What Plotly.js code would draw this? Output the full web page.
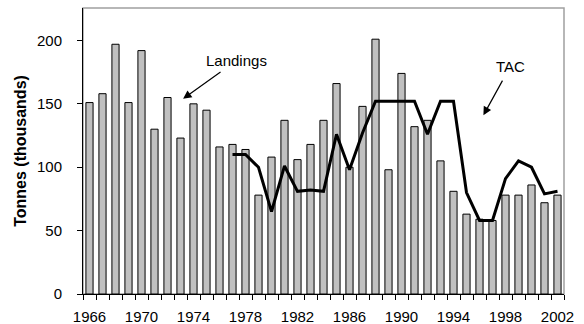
<!DOCTYPE html>
<html>
<head>
<meta charset="utf-8">
<script src="https://cdn.plot.ly/plotly-3.0.1.min.js"></script>
<style>
  html, body { margin: 0; padding: 0; background: #fff; }
  #chart { width: 584px; height: 324px; }
</style>
</head>
<body>
<div id="chart"></div>
<script>
// Annual landings (thousand tonnes), 1966-2002
const years = [1966, 1967, 1968, 1969, 1970, 1971, 1972, 1973, 1974, 1975,
               1976, 1977, 1978, 1979, 1980, 1981, 1982, 1983, 1984, 1985,
               1986, 1987, 1988, 1989, 1990, 1991, 1992, 1993, 1994, 1995,
               1996, 1997, 1998, 1999, 2000, 2001, 2002];
const landings = [151, 158, 197, 151, 192, 130, 155, 123, 150, 145,
                  116, 118, 114, 78, 108, 137, 106, 118, 137, 166,
                  100, 148, 201, 98, 174, 132, 137, 105, 81, 63,
                  59, 58, 78, 78, 86, 72, 78];

// Total allowable catch (thousand tonnes), 1977-2002
const tacYears = [1977, 1978, 1979, 1980, 1981, 1982, 1983, 1984, 1985, 1986,
                  1987, 1988, 1989, 1990, 1991, 1992, 1993, 1994, 1995, 1996,
                  1997, 1998, 1999, 2000, 2001, 2002];
const tac = [110, 110, 100, 65, 101, 81, 82, 81, 126, 98,
             127, 152, 152, 152, 152, 126, 152, 152, 80, 58,
             58, 91, 105, 100, 79, 81];

// Axis labels
const xTickYears = [1966, 1970, 1974, 1978, 1982, 1986, 1990, 1994, 1998, 2002];
const yTicks = [0, 50, 100, 150, 200];
const yTitle = 'Tonnes (thousands)';

const font = 'Liberation Sans, Arial, sans-serif';

const traces = [
  {
    type: 'bar',
    x: years,
    y: landings,
    width: 0.55,
    marker: { color: '#c0c0c0', line: { color: '#000', width: 1 } },
    hoverinfo: 'skip'
  },
  {
    type: 'scatter',
    mode: 'lines',
    x: tacYears,
    y: tac,
    line: { color: '#000', width: 3 },
    hoverinfo: 'skip'
  }
];

const layout = {
  width: 584,
  height: 324,
  margin: { l: 83, r: 20, t: 8, b: 30 },
  paper_bgcolor: '#fff',
  plot_bgcolor: '#fff',
  showlegend: false,
  font: { family: font, size: 15, color: '#000' },
  xaxis: {
    range: [1965.5, 2002.5],
    tickmode: 'array',
    tickvals: xTickYears,
    ticktext: xTickYears.map(String),
    ticks: '',
    ticklabelstandoff: 9,
    tickfont: { family: font, size: 15 },
    showline: true,
    linecolor: '#000',
    linewidth: 1,
    showgrid: false,
    zeroline: false,
    minor: { ticks: 'outside', tick0: 1965.5, dtick: 1, ticklen: 5, tickcolor: '#000', tickwidth: 1, showgrid: false }
  },
  yaxis: {
    range: [0, 225.6],
    tickmode: 'array',
    tickvals: yTicks,
    ticks: 'outside',
    ticklen: 5,
    tickcolor: '#000',
    ticklabelstandoff: 12,
    tickfont: { family: 'Liberation Sans Narrow, Arial Narrow, ' + font, size: 15 },
    showline: true,
    linecolor: '#000',
    linewidth: 1,
    showgrid: false,
    zeroline: false,
    title: { text: yTitle, font: { family: font, size: 16, weight: 'bold' }, standoff: 6 }
  },
  shapes: [
    {
      type: 'rect', xref: 'paper', yref: 'paper', x0: 0, x1: 1, y0: 0, y1: 1,
      line: { color: '#a0a0a0', width: 1.5 }, layer: 'below'
    }
  ],
  annotations: [
    { x: 1973.2, y: 154, xref: 'x', yref: 'y', text: 'Landings', showarrow: true,
      ax: 53, ay: -38, startstandoff: 2, arrowhead: 2, arrowsize: 1.4, arrowwidth: 1.2, arrowcolor: '#000',
      font: { family: font, size: 15 } },
    { x: 1996.3, y: 141, xref: 'x', yref: 'y', text: 'TAC', showarrow: true,
      ax: 27, ay: -49, startstandoff: 5, arrowhead: 2, arrowsize: 1.4, arrowwidth: 1.2, arrowcolor: '#000',
      font: { family: font, size: 15 } }
  ]
};

Plotly.newPlot('chart', traces, layout, { displayModeBar: false, staticPlot: true });
</script>
</body>
</html>
